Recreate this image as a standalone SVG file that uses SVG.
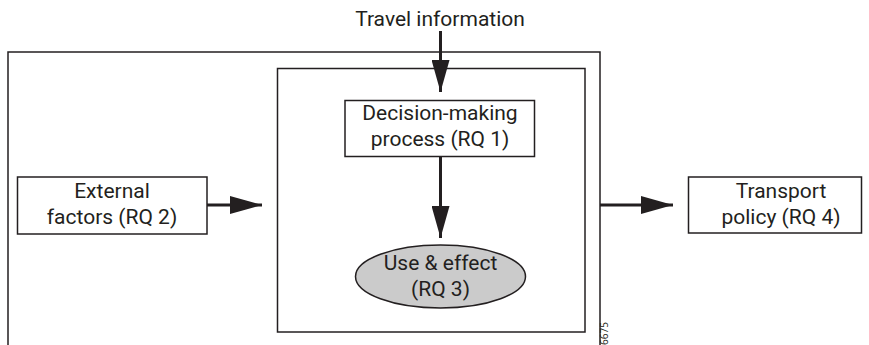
<svg xmlns="http://www.w3.org/2000/svg" width="869" height="345" viewBox="0 0 869 345">
<defs>
<style>
.box{fill:#fff;stroke:#231f20;stroke-width:1.5}
.frame{fill:none;stroke:#231f20;stroke-width:1.5}
.t{font-family:Roboto,"Open Sans",sans-serif;font-size:21px;fill:#231f20;text-anchor:middle}
.c{stroke:#231f20;stroke-width:3;fill:none}
</style>
<marker id="ah" markerUnits="userSpaceOnUse" markerWidth="32" markerHeight="18" refX="32" refY="9" orient="auto">
<path d="M0,0 L32,9 L0,18 Z" fill="#231f20"/>
</marker>
</defs>
<g id="outer-frame"><path class="frame" d="M8,346 V52 H600 V346"/></g>
<g id="inner-frame"><rect class="frame" x="277.5" y="68.5" width="307.5" height="263.5"/></g>
<g id="travel-information"><text class="t" x="440" y="26">Travel information</text></g>
<g id="decision"><rect class="box" x="345" y="100.5" width="189.5" height="56"/>
<text class="t" x="440" y="120">Decision-making</text><text class="t" x="440" y="146">process (RQ 1)</text></g>
<g id="external"><rect class="box" x="17.5" y="177" width="189.5" height="57"/>
<text class="t" x="112" y="198">External</text><text class="t" x="112" y="224">factors (RQ 2)</text></g>
<g id="transport"><rect class="box" x="688.5" y="177" width="173" height="56"/>
<text class="t" x="781" y="198">Transport</text><text class="t" x="781" y="224">policy (RQ 4)</text></g>
<g id="use-effect"><ellipse cx="440.5" cy="276.5" rx="85" ry="31.5" fill="#cbcbcb" stroke="#231f20" stroke-width="1.5"/>
<text class="t" x="440.5" y="270">Use &amp; effect</text><text class="t" x="440.5" y="296">(RQ 3)</text></g>
<g id="connectors">
<line class="c" x1="440.5" y1="31" x2="440.5" y2="92" marker-end="url(#ah)"/>
<line class="c" x1="440.5" y1="157" x2="440.5" y2="238" marker-end="url(#ah)"/>
<line class="c" x1="207" y1="205" x2="262" y2="205" marker-end="url(#ah)"/>
<line class="c" x1="600" y1="205" x2="673" y2="205" marker-end="url(#ah)"/>
</g>
<text x="0" y="0" transform="translate(608,322) rotate(-90)" font-family="Open Sans, sans-serif" font-size="10" fill="#231f20" text-anchor="end">6675</text>
</svg>
